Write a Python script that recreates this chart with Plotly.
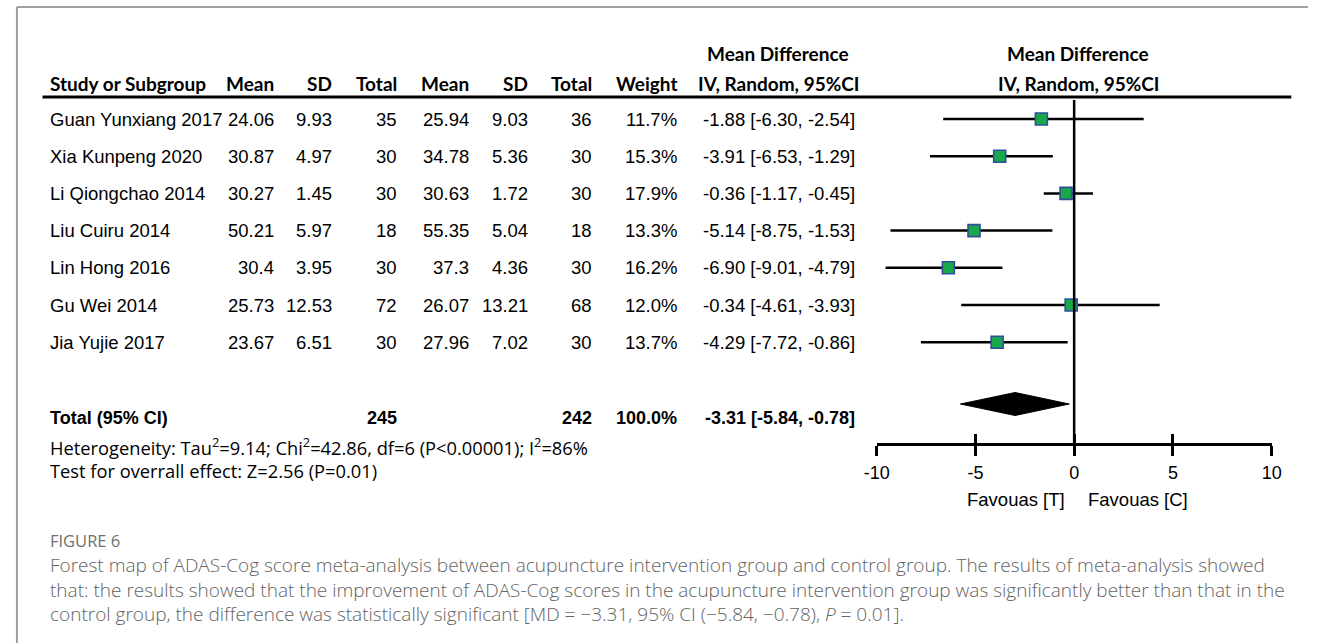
import plotly.graph_objects as go

W, H = 1318, 643

# ---------------- data ----------------
studies = ["Guan Yunxiang 2017", "Xia Kunpeng 2020", "Li Qiongchao 2014", "Liu Cuiru 2014",
           "Lin Hong 2016", "Gu Wei 2014", "Jia Yujie 2017"]
t_mean = ["24.06", "30.87", "30.27", "50.21", "30.4", "25.73", "23.67"]
t_sd = ["9.93", "4.97", "1.45", "5.97", "3.95", "12.53", "6.51"]
t_total = ["35", "30", "30", "18", "30", "72", "30"]
c_mean = ["25.94", "34.78", "30.63", "55.35", "37.3", "26.07", "27.96"]
c_sd = ["9.03", "5.36", "1.72", "5.04", "4.36", "13.21", "7.02"]
c_total = ["36", "30", "30", "18", "30", "68", "30"]
weights = ["11.7%", "15.3%", "17.9%", "13.3%", "16.2%", "12.0%", "13.7%"]
ci_text = ["-1.88 [-6.30, -2.54]", "-3.91 [-6.53, -1.29]", "-0.36 [-1.17, -0.45]",
           "-5.14 [-8.75, -1.53]", "-6.90 [-9.01, -4.79]", "-0.34 [-4.61, -3.93]",
           "-4.29 [-7.72, -0.86]"]
# effect estimates as drawn in the plot panel
md_drawn = [-1.66, -3.77, -0.41, -5.07, -6.37, -0.15, -3.90]
lo_drawn = [-6.63, -7.30, -1.54, -9.30, -9.55, -5.72, -7.76]
hi_drawn = [3.52, -1.08, 0.95, -1.10, -3.63, 4.33, -0.33]
total_row = ["Total (95% CI)", "245", "242", "100.0%", "-3.31 [-5.84, -0.78]"]
pooled_drawn = {"md": -2.99, "lo": -5.76, "hi": -0.25}
tick_values = [-10, -5, 0, 5, 10]
tick_labels = ["-10", "-5", "0", "5", "10"]
heterogeneity = "Heterogeneity: Tau<sup>2</sup>=9.14; Chi<sup>2</sup>=42.86, df=6 (P<0.00001); I<sup>2</sup>=86%"
overall = "Test for overrall effect: Z=2.56 (P=0.01)"
favours = ["Favouas [T]", "Favouas [C]"]
caption_title = "FIGURE 6"
caption_lines = [
    "Forest map of ADAS-Cog score meta-analysis between acupuncture intervention group and control group. The results of meta-analysis showed",
    "that: the results showed that the improvement of ADAS-Cog scores in the acupuncture intervention group was significantly better than that in the",
    "control group, the difference was statistically significant [MD = \u22123.31, 95% CI (\u22125.84, \u22120.78), <i>P</i> = 0.01].",
]

# ---------------- layout helpers ----------------
def X(px):
    return px / W

row0, row_step = 119, 37.2
rows_y = [row0 + row_step * i for i in range(len(studies))]
total_y = 418
axis_y = 444

HEAD_FONT = dict(family="Lato", size=19, color="black", weight="bold")
CELL_FONT = dict(family="Liberation Sans", size=18.5, color="black")
BOLD_CELL = dict(family="Liberation Sans", size=18, color="black", weight="bold")
NOTE_FONT = dict(family="Open Sans", size=18.3, color="black")

annotations = []

def txt(x, y, s, font, anchor="left"):
    annotations.append(dict(x=X(x), y=y, xref="paper", yref="y", text=s, showarrow=False,
                            xanchor=anchor, yanchor="middle", font=font, align="left"))

# headers
txt(779, 53, "Mean Difference", HEAD_FONT, "center")
txt(1084, 53, "Mean Difference", HEAD_FONT, "center")
hy = 83
txt(36, hy, "Study or Subgroup", HEAD_FONT, "left")
txt(268, hy, "Mean", HEAD_FONT, "right")
txt(327, hy, "SD", HEAD_FONT, "right")
txt(393, hy, "Total", HEAD_FONT, "right")
txt(466, hy, "Mean", HEAD_FONT, "right")
txt(526, hy, "SD", HEAD_FONT, "right")
txt(591, hy, "Total", HEAD_FONT, "right")
txt(678, hy, "Weight", HEAD_FONT, "right")
txt(779, hy, "IV, Random, 95%CI", HEAD_FONT, "center")
txt(1084, hy, "IV, Random, 95%CI", HEAD_FONT, "center")

cols = [(t_mean, 268), (t_sd, 327), (t_total, 393), (c_mean, 466), (c_sd, 526),
        (c_total, 591), (weights, 678), (ci_text, 859)]
for i, y in enumerate(rows_y):
    txt(36, y, studies[i], CELL_FONT, "left")
    for arr, xr in cols:
        txt(xr, y, arr[i], CELL_FONT, "right")

txt(36, total_y, total_row[0], BOLD_CELL, "left")
txt(393, total_y, total_row[1], BOLD_CELL, "right")
txt(591, total_y, total_row[2], BOLD_CELL, "right")
txt(678, total_y, total_row[3], BOLD_CELL, "right")
txt(859, total_y, total_row[4], BOLD_CELL, "right")

txt(36, 446, heterogeneity, NOTE_FONT, "left")
txt(36, 470, overall, NOTE_FONT, "left")

txt(1073, 499, favours[0], CELL_FONT, "right")
txt(1092, 499, favours[1], CELL_FONT, "left")

txt(36, 540, caption_title, dict(family="Open Sans", size=16.5, color="#707070"), "left")
txt(36, 589, "<br>".join(caption_lines),
    dict(family="Open Sans", size=19.0, color="#636363", weight=300), "left")

# ---------------- traces ----------------
fig = go.Figure()

line_x, line_y = [], []
for i, y in enumerate(rows_y):
    line_x += [lo_drawn[i], hi_drawn[i], None]
    line_y += [y, y, None]
fig.add_trace(go.Scatter(x=line_x, y=line_y, mode="lines",
                         line=dict(color="black", width=2.5), hoverinfo="skip", showlegend=False))
fig.add_trace(go.Scatter(x=md_drawn, y=rows_y, mode="markers",
                         marker=dict(symbol="square", size=12, color="#18a84a",
                                     line=dict(color="#2f4e9e", width=1.6)),
                         showlegend=False))
dh = 11.5
dy = total_y - 14
fig.add_trace(go.Scatter(
    x=[pooled_drawn["lo"], pooled_drawn["md"], pooled_drawn["hi"], pooled_drawn["md"], pooled_drawn["lo"]],
    y=[dy, dy - dh, dy, dy + dh, dy], mode="lines", fill="toself", fillcolor="black",
    line=dict(color="black", width=1), showlegend=False, hoverinfo="skip"))

shapes = [
    # frame
    dict(type="line", xref="paper", yref="y", x0=X(4), x1=1, y0=7, y1=7, line=dict(color="#a0a0a0", width=2)),
    dict(type="line", xref="paper", yref="y", x0=X(4), x1=X(4), y0=7, y1=H, line=dict(color="#a0a0a0", width=2)),
    # header rule
    dict(type="line", xref="paper", yref="y", x0=X(30), x1=X(1301), y0=97, y1=97, line=dict(color="black", width=3)),
    # line of no effect
    dict(type="line", xref="x", yref="y", x0=0, x1=0, y0=100, y1=axis_y, line=dict(color="black", width=2.5)),
]

pos = 1 - axis_y / H
fig.update_layout(
    width=W, height=H, margin=dict(l=0, r=0, t=0, b=0),
    paper_bgcolor="white", plot_bgcolor="rgba(0,0,0,0)",
    showlegend=False, annotations=annotations, shapes=shapes,
    xaxis=dict(domain=[X(879), X(1281)], range=[-10, 10], anchor="free", position=pos,
               showline=True, linewidth=2.5, linecolor="black", ticks="outside", ticklen=10,
               tickwidth=2.5, tickcolor="black", tickvals=tick_values, ticktext=tick_labels,
               tickfont=dict(family="Liberation Sans", size=18, color="black"),
               showgrid=False, zeroline=False, fixedrange=True, ticklabelstandoff=2),
    xaxis2=dict(overlaying="x", matches="x", anchor="free", position=pos, ticks="inside",
                ticklen=10, tickwidth=2.5, tickcolor="black", tickvals=tick_values,
                showticklabels=False, showline=False, showgrid=False, zeroline=False),
    yaxis=dict(domain=[0, 1], range=[H, 0], visible=False, fixedrange=True),
)
fig.add_trace(go.Scatter(x=[None], y=[None], xaxis="x2", yaxis="y", showlegend=False))

fig.write_html("out.html", config={"displayModeBar": False},
               post_script="document.body.style.margin='0';document.body.style.overflow='hidden';")
